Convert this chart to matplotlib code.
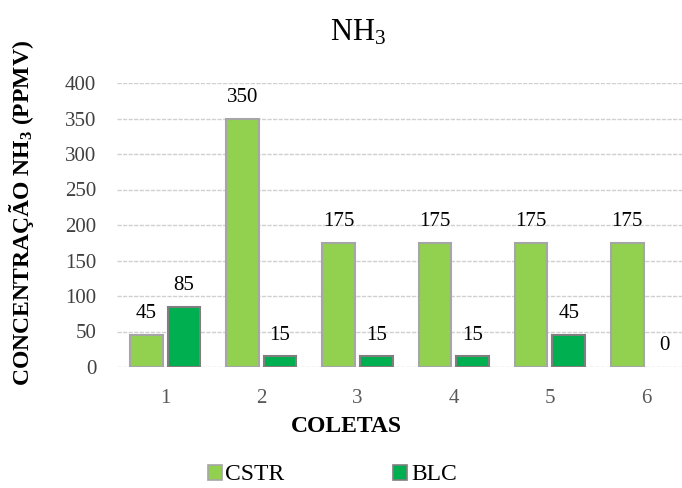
import matplotlib
matplotlib.use("Agg")
import matplotlib.pyplot as plt
import numpy as np
from matplotlib.patches import Patch

plt.rcParams["font.family"] = ["Liberation Serif", "DejaVu Serif"]
plt.rcParams["mathtext.fontset"] = "custom"
plt.rcParams["mathtext.rm"] = "Liberation Serif"
plt.rcParams["mathtext.bf"] = "Liberation Serif:bold"
plt.rcParams["mathtext.it"] = "Liberation Serif:italic"

coletas = ["1", "2", "3", "4", "5", "6"]
cstr = [45, 350, 175, 175, 175, 175]
blc = [85, 15, 15, 15, 45, 0]
yticks = [0, 50, 100, 150, 200, 250, 300, 350, 400]

c_cstr = "#92d050"
c_blc = "#00b050"

fig = plt.figure(figsize=(6.82, 4.88), dpi=100)
ax = fig.add_axes([117 / 682, 1 - 367 / 488, (682 - 117) / 682, (367 - 83) / 488])

x = np.arange(1, len(coletas) + 1)
w = 0.34
off = 0.195
b1 = ax.bar(x - off, cstr, width=w, color=c_cstr, edgecolor="#a6a6a6", linewidth=1.5, zorder=3)
b2 = ax.bar(x + off, blc, width=w, color=c_blc,
            edgecolor=["#7f7f7f" if v > 0 else "none" for v in blc], linewidth=1.5, zorder=3)

for bars, vals in ((b1, cstr), (b2, blc)):
    for r, v in zip(bars, vals):
        ax.annotate(str(v), (r.get_x() + r.get_width() / 2, v), xytext=(0, 8.5),
                    textcoords="offset points", ha="center", va="bottom",
                    fontsize=15, color="black")

ax.set_xlim(0.5, 0.5 + 565 / 96.2)
ax.set_ylim(0, 400)
ax.set_yticks(yticks)
ax.set_xticks(x)
ax.set_xticklabels(coletas)
ax.yaxis.grid(True, color="#d0d0d0", linestyle=(0, (3, 1)), linewidth=1.0, zorder=0)
for s in ax.spines.values():
    s.set_visible(False)
ax.tick_params(axis="both", length=0, labelsize=15)
ax.tick_params(axis="y", labelcolor="#404040", pad=15)
ax.tick_params(axis="x", labelcolor="#595959", pad=16)

fig.text(358 / 682, 1 - 33 / 488, "NH$_3$", fontsize=22, ha="center", va="center")
fig.text(346 / 682, 1 - 426 / 488, "COLETAS", fontsize=17, fontweight="bold",
         ha="center", va="center")
fig.text(22 / 682, 1 - 213 / 488, r"CONCENTRAÇÃO NH$_\mathbf{3}$ (PPMV)", fontsize=17,
         fontweight="bold", rotation=90, ha="center", va="center")

handles = [Patch(facecolor=c_cstr, edgecolor="#a6a6a6", linewidth=1.2),
           Patch(facecolor=c_blc, edgecolor="#7f7f7f", linewidth=1.2)]
fig.legend(handles, ["CSTR", "BLC"], loc="center", bbox_to_anchor=(0.487, 1 - 475 / 488),
           ncol=2, frameon=False, fontsize=17, handlelength=0.6, handleheight=0.6,
           handletextpad=0.15, columnspacing=4.6, borderpad=0.2)

fig.savefig("out.png", dpi=100)
